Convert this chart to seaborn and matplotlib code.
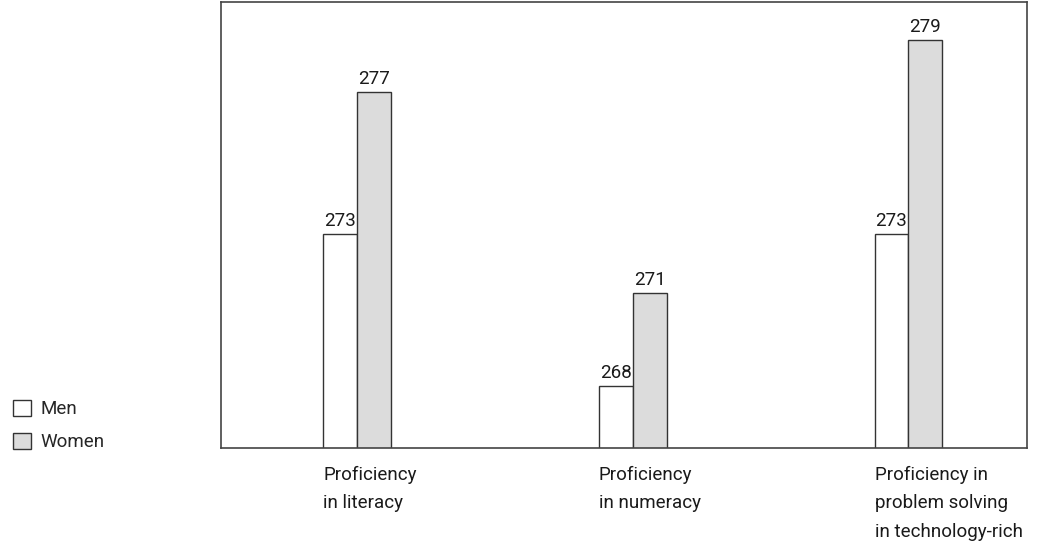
import matplotlib
matplotlib.use("Agg")
import matplotlib.pyplot as plt
import matplotlib.transforms as mtransforms
from matplotlib.patches import Patch
import seaborn as sns
import pandas as pd

categories = ["Proficiency\nin literacy",
              "Proficiency\nin numeracy",
              "Proficiency in\nproblem solving\nin technology-rich"]
groups = ["Men", "Women"]
men_scores = [272.9, 268.2, 272.9]
women_scores = [277.3, 271.1, 278.9]

df = pd.DataFrame({
    "category": categories * 2,
    "group": ["Men"] * 3 + ["Women"] * 3,
    "score": men_scores + women_scores,
})

sns.set_style("white")
plt.rcParams["font.family"] = ["Roboto", "DejaVu Sans"]

palette = {"Men": "#ffffff", "Women": "#dcdcdc"}
edge = "#333333"
txt = "#1a1a1a"
fs = 13.5

fig = plt.figure(figsize=(10.42, 5.41), dpi=100)
ax = fig.add_axes([0.2121, 0.172, 0.7735, 0.824])

sns.barplot(data=df, x="category", y="score", hue="group", hue_order=groups,
            palette=palette, width=0.246, gap=0, edgecolor=edge, linewidth=1.0,
            legend=False, ax=ax, errorbar=None)

for cont in ax.containers:
    ax.bar_label(cont, fmt="%.0f", padding=3, fontsize=fs, color=txt)

ax.set_ylim(266.3, 280.08)
ax.set_xlim(-0.493, 2.43)
ax.set_yticks([])
ax.set_xticks([])
ax.set_xlabel("")
ax.set_ylabel("")
for sp in ax.spines.values():
    sp.set_visible(True)
    sp.set_color("#444444")
    sp.set_linewidth(1.2)

# left-aligned category labels under each bar pair
trans = mtransforms.blended_transform_factory(ax.transData, ax.transAxes)
for i, lab in enumerate(categories):
    ax.text(i - 0.123, -0.04, lab, transform=trans, ha="left", va="top",
            fontsize=fs, color=txt, linespacing=1.75)

handles = [Patch(facecolor=palette[g], edgecolor=edge, linewidth=1.0, label=g) for g in groups]
fig.legend(handles=handles, loc="upper left", bbox_to_anchor=(0.0, 0.285),
           frameon=False, fontsize=fs, handlelength=0.95, handleheight=0.95,
           handletextpad=0.5, labelspacing=0.75, borderaxespad=0.3)

fig.savefig("out.png", dpi=100)
